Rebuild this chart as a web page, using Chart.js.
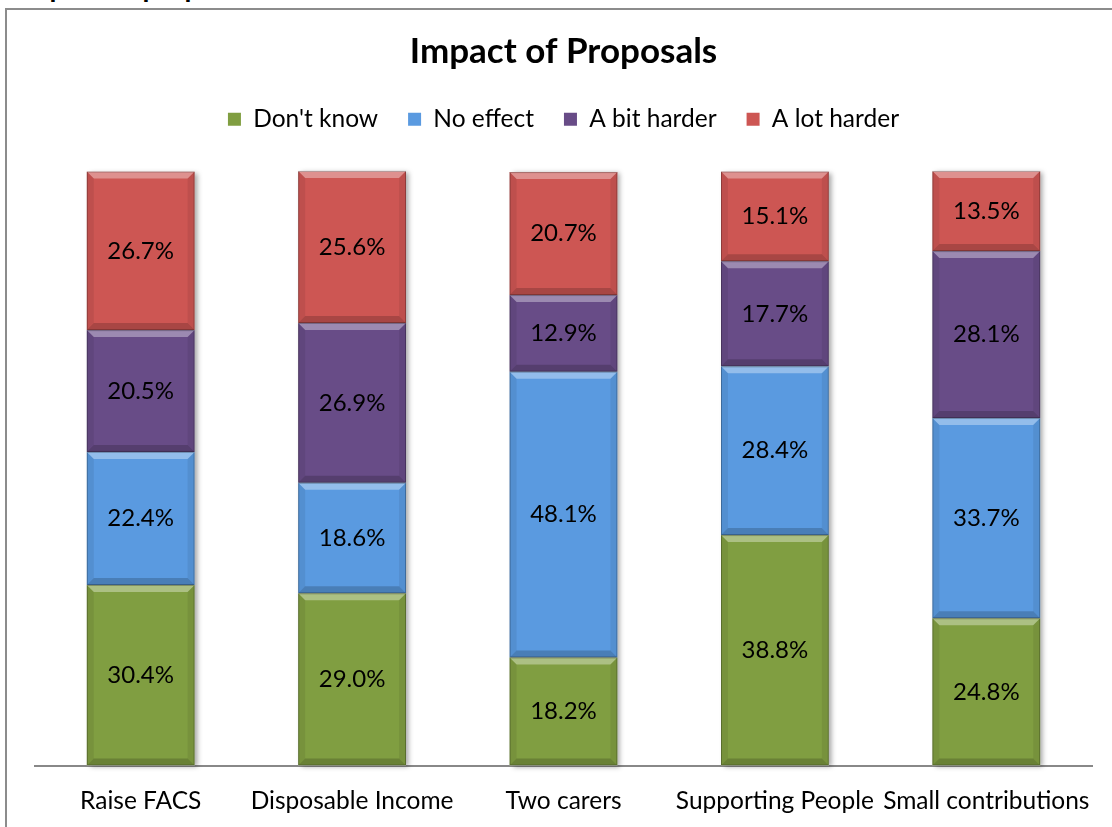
<!DOCTYPE html>
<html>
<head>
<meta charset="utf-8">
<script src="https://cdn.jsdelivr.net/npm/chart.js@4"></script>
<style>
    html, body { margin: 0; padding: 0; background: #fff; overflow: hidden; }
    #page { position: relative; width: 1112px; height: 827px; overflow: hidden; }
    #heading { position: absolute; left: 18px; top: -31px; font: bold 28px Lato, sans-serif; color: #000; white-space: nowrap; }
    #frame { position: absolute; left: 5px; top: 8px; width: 1200px; height: 900px; border: 2px solid #8c8c8c; box-sizing: border-box; }
    #wrap { position: absolute; left: 0; top: 0; width: 1112px; height: 829px; }
</style>
</head>
<body>
<div id="page">
    <div id="heading">Impact of proposals</div>
    <div id="frame"></div>
    <div id="wrap"><canvas id="impactChart"></canvas></div>
</div>
<script>
// Survey responses, percentage of each answer per proposal
const categories = ['Raise FACS', 'Disposable Income', 'Two carers', 'Supporting People', 'Small contributions'];
const seriesNames = ["Don't know", 'No effect', 'A bit harder', 'A lot harder'];
const dontKnow   = [30.4, 29.0, 18.2, 38.8, 24.8];
const noEffect   = [22.4, 18.6, 48.1, 28.4, 33.7];
const bitHarder  = [20.5, 26.9, 12.9, 17.7, 28.1];
const lotHarder  = [26.7, 25.6, 20.7, 15.1, 13.5];
const seriesColors = ['#809E41', '#5A9AE0', '#684C87', '#CD5653'];

const FONT = 'Lato, "Open Sans", sans-serif';

// extra room between the legend and the bars
const legendGap = {
    id: 'legendGap',
    beforeInit(chart) {
        const fit = chart.legend.fit;
        chart.legend.fit = function () {
            fit.bind(chart.legend)();
            this.height += 30;
        };
    }
};

// soft drop shadow behind each full stack
const stackShadow = {
    id: 'stackShadow',
    beforeDatasetsDraw(chart) {
        const ctx = chart.ctx;
        const first = chart.getDatasetMeta(0).data;
        const last = chart.getDatasetMeta(chart.data.datasets.length - 1).data;
        ctx.save();
        ctx.shadowColor = 'rgba(0,0,0,0.35)';
        ctx.shadowBlur = 5;
        ctx.shadowOffsetX = 3;
        ctx.shadowOffsetY = 1;
        ctx.fillStyle = '#ffffff';
        first.forEach((bar, i) => {
            const top = last[i].y;
            const bottom = bar.base;
            ctx.fillRect(bar.x - bar.width / 2, top, bar.width, bottom - top);
        });
        ctx.restore();
    }
};

// bevelled look + value labels on every segment
const bevelLabels = {
    id: 'bevelLabels',
    afterDatasetsDraw(chart) {
        const ctx = chart.ctx;
        const b = 7;
        chart.data.datasets.forEach((ds, di) => {
            chart.getDatasetMeta(di).data.forEach((bar, i) => {
                const l = bar.x - bar.width / 2, r = bar.x + bar.width / 2;
                const t = Math.min(bar.y, bar.base), btm = Math.max(bar.y, bar.base);
                ctx.save();
                // top highlight
                ctx.fillStyle = 'rgba(255,255,255,0.35)';
                ctx.beginPath();
                ctx.moveTo(l, t); ctx.lineTo(r, t); ctx.lineTo(r - b, t + b); ctx.lineTo(l + b, t + b);
                ctx.closePath(); ctx.fill();
                // bottom shade
                ctx.fillStyle = 'rgba(0,0,0,0.18)';
                ctx.beginPath();
                ctx.moveTo(l, btm); ctx.lineTo(r, btm); ctx.lineTo(r - b, btm - b); ctx.lineTo(l + b, btm - b);
                ctx.closePath(); ctx.fill();
                // sides
                ctx.fillStyle = 'rgba(0,0,0,0.07)';
                ctx.beginPath();
                ctx.moveTo(l, t); ctx.lineTo(l + b, t + b); ctx.lineTo(l + b, btm - b); ctx.lineTo(l, btm);
                ctx.closePath(); ctx.fill();
                ctx.beginPath();
                ctx.moveTo(r, t); ctx.lineTo(r - b, t + b); ctx.lineTo(r - b, btm - b); ctx.lineTo(r, btm);
                ctx.closePath(); ctx.fill();
                // outline
                ctx.strokeStyle = 'rgba(0,0,0,0.25)';
                ctx.lineWidth = 1;
                ctx.strokeRect(l + 0.5, t + 0.5, r - l - 1, btm - t - 1);
                // value
                ctx.fillStyle = '#000';
                ctx.font = '24px ' + FONT;
                ctx.textAlign = 'center';
                ctx.textBaseline = 'middle';
                ctx.fillText(ds.data[i].toFixed(1) + '%', bar.x, (t + btm) / 2);
                ctx.restore();
            });
        });
    }
};

const ctx = document.getElementById('impactChart').getContext('2d');
new Chart(ctx, {
    type: 'bar',
    data: {
        labels: categories,
        datasets: [dontKnow, noEffect, bitHarder, lotHarder].map((vals, k) => ({
            label: seriesNames[k],
            data: vals,
            backgroundColor: seriesColors[k],
            borderWidth: 0,
            categoryPercentage: 1,
            barPercentage: 0.51
        }))
    },
    options: {
        responsive: true,
        maintainAspectRatio: false,
        animation: false,
        layout: { padding: { left: 35, right: 20, top: 18, bottom: 0 } },
        plugins: {
            title: {
                display: true,
                text: 'Impact of Proposals',
                color: '#000',
                font: { family: FONT, size: 35, weight: 'bold' },
                padding: { top: 13, bottom: 4 }
            },
            legend: {
                display: true,
                labels: {
                    color: '#000',
                    font: { family: FONT, size: 24.5 },
                    boxWidth: 13,
                    boxHeight: 13,
                    padding: 30
                }
            },
            tooltip: { enabled: false }
        },
        scales: {
            x: {
                stacked: true,
                grid: { display: false },
                border: { display: true, color: '#888888', width: 2 },
                ticks: { color: '#000', font: { family: FONT, size: 24.5 }, padding: 13, maxRotation: 0, autoSkip: false }
            },
            y: {
                stacked: true,
                display: false,
                min: 0,
                max: 100
            }
        }
    },
    plugins: [legendGap, stackShadow, bevelLabels]
});
</script>
</body>
</html>
